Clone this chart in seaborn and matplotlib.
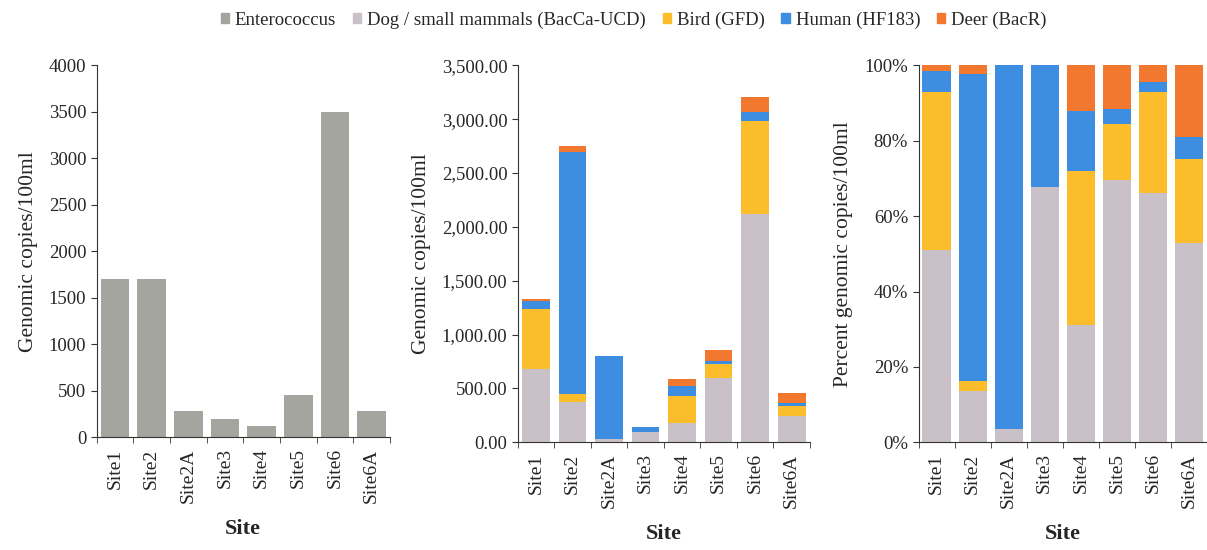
import numpy as np
import pandas as pd
import matplotlib.pyplot as plt
import matplotlib.ticker as mticker
from matplotlib.patches import Patch
import seaborn as sns

# données
sites = ["Site1", "Site2", "Site2A", "Site3", "Site4", "Site5", "Site6", "Site6A"]
enterococcus = [1700, 1700, 280, 200, 120, 450, 3500, 280]
dog = [678, 372, 28, 95, 183, 594, 2119, 240]
bird = [559, 77, 0, 0, 242, 128, 866, 100]
human = [73, 2245, 772, 45, 94, 34, 80, 27]
deer = [20, 62, 0, 0, 71, 99, 145, 86]

series_names = ["Dog / small mammals (BacCa-UCD)", "Bird (GFD)", "Human (HF183)", "Deer (BacR)"]
series_colors = ["#c9c1c7", "#fbbd2c", "#3d8ee0", "#f2782f"]
ent_color = "#a5a59f"

sns.set_style("ticks")
plt.rcParams["font.family"] = ["Liberation Serif", "DejaVu Serif"]
plt.rcParams["axes.edgecolor"] = "#333333"

df = pd.DataFrame({"site": sites, series_names[0]: dog, series_names[1]: bird,
                   series_names[2]: human, series_names[3]: deer})
cum = df[series_names].cumsum(axis=1)
pct = cum.div(cum[series_names[-1]], axis=0)

fig = plt.figure(figsize=(12.07, 5.5), dpi=100)
ax1 = fig.add_axes([0.080, 0.205, 0.243, 0.676])
ax2 = fig.add_axes([0.429, 0.196, 0.242, 0.685])
ax3 = fig.add_axes([0.761, 0.196, 0.239, 0.685])

# 1. Enterococcus
sns.barplot(x=sites, y=enterococcus, color=ent_color, width=0.78, ax=ax1,
            saturation=1, edgecolor="none")
ax1.set_ylim(0, 4000)
ax1.set_yticks(range(0, 4001, 500))

# 2. empilé (valeurs)
for name, col in zip(series_names[::-1], series_colors[::-1]):
    sns.barplot(x=df["site"], y=cum[name], color=col, width=0.76, ax=ax2,
                saturation=1, edgecolor="none")
ax2.set_ylim(0, 3500)
ax2.set_yticks(range(0, 3501, 500))
ax2.yaxis.set_major_formatter(mticker.FuncFormatter(lambda v, p: f"{v:,.2f}"))

# 3. empilé (pourcentages)
for name, col in zip(series_names[::-1], series_colors[::-1]):
    sns.barplot(x=df["site"], y=pct[name], color=col, width=0.78, ax=ax3,
                saturation=1, edgecolor="none")
ax3.set_ylim(0, 1)
ax3.set_yticks(np.arange(0, 1.01, 0.2))
ax3.yaxis.set_major_formatter(mticker.PercentFormatter(1.0, decimals=0))

ylabels = ["Genomic copies/100ml", "Genomic copies/100ml", "Percent genomic copies/100ml"]
for ax, yl in zip([ax1, ax2, ax3], ylabels):
    ax.set_xlim(-0.5, len(sites) - 0.5)
    ax.set_xticks(range(len(sites)))
    ax.set_xticklabels(sites, rotation=90, fontsize=14)
    ax.set_xticks(np.arange(-0.5, len(sites), 1), minor=True)
    ax.tick_params(axis="x", which="major", length=0, pad=8)
    ax.tick_params(axis="x", which="minor", length=4, color="#333333")
    ax.tick_params(axis="y", labelsize=13.5, length=4, color="#333333")
    ax.set_xlabel("Site", fontsize=16, fontweight="bold", labelpad=12)
    ax.set_ylabel(yl, fontsize=15.5, labelpad=8)
    sns.despine(ax=ax)

handles = [Patch(color=ent_color, label="Enterococcus")] + [
    Patch(color=c, label=n) for n, c in zip(series_names, series_colors)]
fig.legend(handles=handles, loc="upper center", bbox_to_anchor=(0.525, 1.01), ncol=5,
           frameon=False, fontsize=13.5, handlelength=0.45, handleheight=0.45,
           handletextpad=0.3, columnspacing=0.9)

plt.savefig("out.png", dpi=100)
plt.close()
